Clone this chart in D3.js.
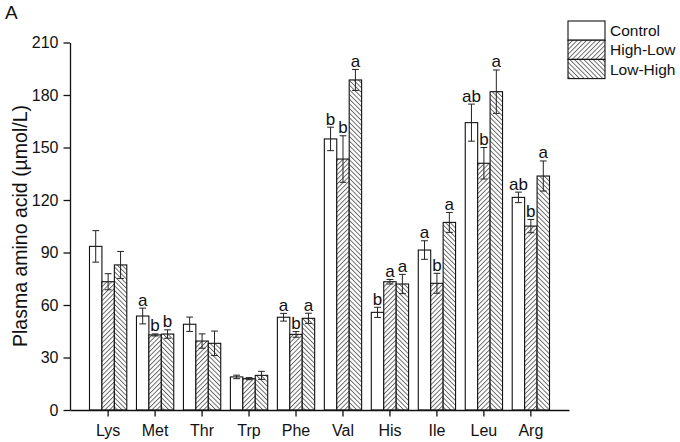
<!DOCTYPE html>
<html>
<head>
<meta charset="utf-8">
<script src="https://cdn.jsdelivr.net/npm/d3@7"></script>
<style>
  html, body { margin: 0; padding: 0; background: #fff; }
  svg { display: block; font-family: "Liberation Sans", Arial, sans-serif; }
</style>
</head>
<body>
<div id="chart"></div>
<script>
const categories = ["Lys", "Met", "Thr", "Trp", "Phe", "Val", "His", "Ile", "Leu", "Arg"];
const seriesNames = ["Control", "High-Low", "Low-High"];

const control    = [93.5, 53.7, 49.0, 18.9, 53.0, 154.9, 55.8, 91.4, 164.2, 121.5];
const controlErr = [9.0, 4.5, 4.1, 1.0, 2.2, 6.7, 2.9, 5.3, 10.6, 3.0];
const highLow    = [73.3, 42.9, 39.4, 17.9, 43.2, 143.4, 73.3, 72.4, 141.0, 105.1];
const highLowErr = [4.6, 0.6, 4.1, 0.6, 1.6, 13.3, 1.3, 5.7, 9.0, 3.8];
const lowHigh    = [82.9, 43.4, 38.1, 19.8, 52.4, 188.6, 72.0, 107.2, 181.9, 133.7];
const lowHighErr = [7.7, 2.4, 7.0, 2.3, 2.9, 6.0, 5.5, 5.7, 12.4, 8.6];

const controlLetters = ["", "a", "", "", "a", "b", "b", "a", "ab", "ab"];
const highLowLetters = ["", "b", "", "", "b", "b", "a", "b", "b", "b"];
const lowHighLetters = ["", "b", "", "", "a", "a", "a", "a", "a", "a"];

const yTicks = [0, 30, 60, 90, 120, 150, 180, 210];

const width = 680, height = 442;
const svg = d3.select("#chart").append("svg").attr("width", width).attr("height", height);

// hatch patterns
const defs = svg.append("defs");
function hatch(id, angle) {
  const p = defs.append("pattern")
    .attr("id", id)
    .attr("patternUnits", "userSpaceOnUse")
    .attr("width", 3.3)
    .attr("height", 10)
    .attr("patternTransform", `rotate(${angle})`);
  p.append("rect").attr("width", 3.3).attr("height", 10).attr("fill", "#fff");
  p.append("line")
    .attr("x1", 0.5).attr("y1", 0).attr("x2", 0.5).attr("y2", 10)
    .attr("stroke", "#3a3a3a").attr("stroke-width", 0.8);
}
hatch("hl", 45);
hatch("lh", -45);
const fills = ["#fff", "url(#hl)", "url(#lh)"];

// Scales
const x = d3.scaleBand().domain(categories).range([70, 569]).paddingInner(0.206).paddingOuter(0.415);
const xs = d3.scaleBand().domain(seriesNames).range([0, x.bandwidth()]);
const y = d3.scaleLinear().domain([0, 210]).range([410, 42.5]);

const rows = categories.map((c, i) => ({
  cat: c,
  vals: [
    { s: seriesNames[0], v: control[i], e: controlErr[i], l: controlLetters[i] },
    { s: seriesNames[1], v: highLow[i], e: highLowErr[i], l: highLowLetters[i] },
    { s: seriesNames[2], v: lowHigh[i], e: lowHighErr[i], l: lowHighLetters[i] }
  ]
}));

const groups = svg.append("g").selectAll("g").data(rows).join("g")
  .attr("transform", d => `translate(${x(d.cat)},0)`);

groups.selectAll("rect").data(d => d.vals).join("rect")
  .attr("x", (d, i) => xs(d.s))
  .attr("y", d => y(d.v))
  .attr("width", xs.bandwidth())
  .attr("height", d => y(0) - y(d.v))
  .attr("fill", (d, i) => fills[i])
  .attr("stroke", "#111")
  .attr("stroke-width", 1.1);

// Error bars
const capW = 3.4;
groups.selectAll("g.err").data(d => d.vals).join("g").attr("class", "err")
  .each(function (d) {
    const cx = xs(d.s) + xs.bandwidth() / 2;
    const g = d3.select(this);
    g.append("line").attr("x1", cx).attr("x2", cx).attr("y1", y(d.v + d.e)).attr("y2", y(d.v - d.e));
    g.append("line").attr("x1", cx - capW).attr("x2", cx + capW).attr("y1", y(d.v + d.e)).attr("y2", y(d.v + d.e));
    g.append("line").attr("x1", cx - capW).attr("x2", cx + capW).attr("y1", y(d.v - d.e)).attr("y2", y(d.v - d.e));
  })
  .selectAll("line").attr("stroke", "#222").attr("stroke-width", 1);

// Significance letters
groups.selectAll("text.sig").data(d => d.vals.filter(v => v.l)).join("text")
  .attr("class", "sig")
  .attr("x", d => xs(d.s) + xs.bandwidth() / 2)
  .attr("y", d => y(d.v + d.e) - 2.5)
  .attr("text-anchor", "middle")
  .style("font-size", "17px")
  .style("fill", "#111")
  .text(d => d.l);

// Axes
const yAxis = svg.append("g").attr("transform", "translate(70,0)")
  .call(d3.axisLeft(y).tickValues(yTicks).tickSize(6.5).tickSizeOuter(0).tickPadding(5));
const xAxis = svg.append("g").attr("transform", "translate(0,410)")
  .call(d3.axisBottom(x).tickSize(6.5).tickSizeOuter(0).tickPadding(8));

[yAxis, xAxis].forEach(a => {
  a.attr("font-family", null);
  a.select(".domain").attr("stroke", "#111").attr("stroke-width", 1.3);
  a.selectAll(".tick line").attr("stroke", "#111").attr("stroke-width", 1.3);
  a.selectAll(".tick text").style("font-size", "16px").style("fill", "#111");
});

// Axis title
svg.append("text")
  .attr("transform", `translate(27,226) rotate(-90)`)
  .attr("text-anchor", "middle")
  .style("font-size", "19.5px")
  .style("fill", "#111")
  .text("Plasma amino acid (µmol/L)");

// Panel letter
svg.append("text")
  .attr("x", 5).attr("y", 19)
  .style("font-size", "19px")
  .style("fill", "#111")
  .text("A");

// Legend
const legend = svg.append("g").attr("transform", "translate(568,21)");
seriesNames.forEach((name, i) => {
  legend.append("rect")
    .attr("x", 0).attr("y", i * 19.2)
    .attr("width", 37).attr("height", 19.2)
    .attr("fill", fills[i])
    .attr("stroke", "#111")
    .attr("stroke-width", 1.1);
  legend.append("text")
    .attr("x", 42).attr("y", i * 19.2 + 9.6)
    .attr("dy", "0.36em")
    .style("font-size", "15.5px")
    .style("fill", "#111")
    .text(name);
});
</script>
</body>
</html>
